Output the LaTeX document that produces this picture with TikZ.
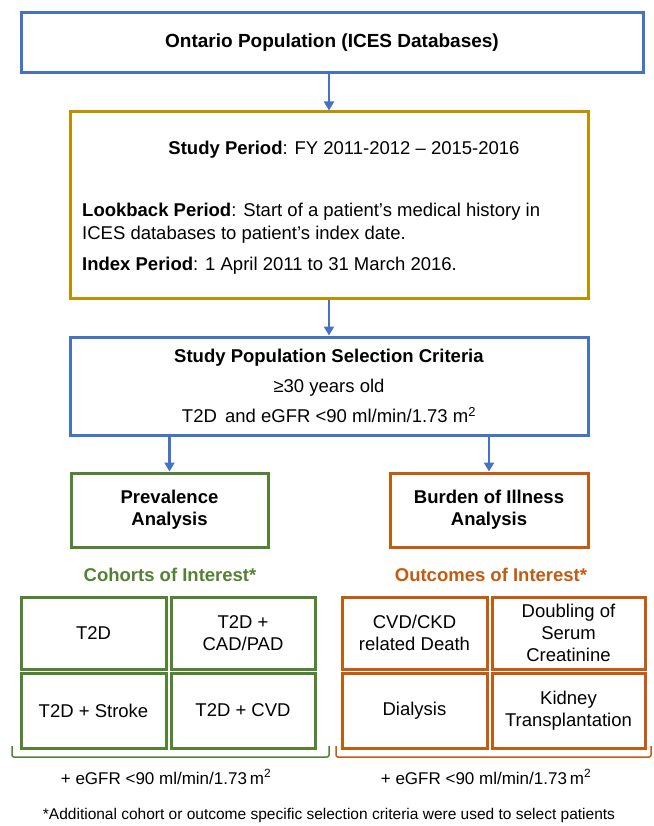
\documentclass[tikz,border=0pt]{standalone}
\usepackage{fontspec}
\setmainfont{Liberation Sans}
\usetikzlibrary{arrows.meta}
\definecolor{popblue}{HTML}{4472C4}
\definecolor{periodgold}{HTML}{BF9000}
\definecolor{prevgreen}{HTML}{548235}
\definecolor{burdenorange}{HTML}{C55A11}
\begin{document}
\begin{tikzpicture}[x=1pt,y=-1pt,
    every node/.style={font=\fontsize{18.5}{22}\selectfont, text=black},
    box/.style={draw, line width=3pt, inner sep=0pt, align=center},
    arr/.style={-{Triangle[width=10pt,length=9pt]}, line width=2.5pt, draw=popblue}]
  \useasboundingbox (0,0) rectangle (653,826);

  % main flow
  \node[box, draw=popblue, minimum width=622, minimum height=60, font=\fontsize{19}{23}\selectfont] (pop) at (332,43)
    {\textbf{Ontario Population (ICES Databases)}};
  \node[box, draw=periodgold, minimum width=518, minimum height=186] (period) at (329,205) {};
  \node[anchor=base] (study) at (344,155) {\textbf{Study Period}: FY 2011-2012 -- 2015-2016};
  \node[anchor=north west, align=left, inner sep=0pt, font=\fontsize{18.5}{23}\selectfont] (lookback) at (82,203)
    {\textbf{Lookback Period}: Start of a patient’s medical history in\\ICES databases to patient’s index date.};
  \node[anchor=base west, inner sep=0pt] (index) at (82,270) {\textbf{Index Period}: 1 April 2011 to 31 March 2016.};
  \node[box, draw=popblue, minimum width=518, minimum height=98] (select) at (329,386)
    {\textbf{Study Population Selection Criteria}\\[8pt]
     ≥30 years old\\[8pt]
     T2D\, and eGFR <90 ml/min/1.73 m\textsuperscript{2}};

  % two analyses
  \node[box, draw=prevgreen, minimum width=197, minimum height=74] (prev) at (169.5,510)
    {\textbf{Prevalence}\\\textbf{Analysis}};
  \node[box, draw=burdenorange, minimum width=198, minimum height=74] (burden) at (489,510)
    {\textbf{Burden of Illness}\\\textbf{Analysis}};
  \node[text=prevgreen] (cohorts) at (170,575) {\textbf{Cohorts of Interest*}};
  \node[text=burdenorange] (outcomes) at (491,575) {\textbf{Outcomes of Interest*}};

  \begin{scope}[every node/.append style={box, line width=3pt}]
    \node[draw=prevgreen, minimum width=145, minimum height=72] (t2d) at (93.5,633) {T2D};
    \node[draw=prevgreen, minimum width=144, minimum height=72] (cad) at (243,633) {T2D +\\CAD/PAD};
    \node[draw=prevgreen, minimum width=145, minimum height=75] (stroke) at (93.5,710.5) {T2D + Stroke};
    \node[draw=prevgreen, minimum width=144, minimum height=75] (cvd) at (243,710.5) {T2D + CVD};
    \node[draw=burdenorange, minimum width=145, minimum height=72] (death) at (414.5,633) {CVD/CKD\\related Death};
    \node[draw=burdenorange, minimum width=153, minimum height=72] (serum) at (568.5,633) {Doubling of\\Serum\\Creatinine};
    \node[draw=burdenorange, minimum width=145, minimum height=75] (dialysis) at (414.5,710.5) {Dialysis};
    \node[draw=burdenorange, minimum width=153, minimum height=75] (kidney) at (568.5,710.5) {Kidney\\Transplantation};
  \end{scope}

  % brackets
  \draw[prevgreen, line width=1.5pt, rounded corners=2pt] (12,746) -- (12,757) -- (329,757) -- (329,746);
  \draw[burdenorange, line width=1.5pt, rounded corners=2pt] (336,746) -- (336,757) -- (651,757) -- (651,746);

  \node[font=\fontsize{17}{20}\selectfont] (egfrl) at (166,777) {+ eGFR <90 ml/min/1.73\,m\textsuperscript{2}};
  \node[font=\fontsize{17}{20}\selectfont] (egfrr) at (486,777) {+ eGFR <90 ml/min/1.73\,m\textsuperscript{2}};
  \node[font=\fontsize{15.5}{18}\selectfont] (note) at (329,815)
    {*Additional cohort or outcome specific selection criteria were used to select patients};

  % arrows
  \draw[arr] (period.north |- pop.south) -- (period.north);
  \draw[arr] (period.south) -- (select.north);
  \draw[arr] (prev.north |- select.south) -- (prev.north);
  \draw[arr] (burden.north |- select.south) -- (burden.north);
\end{tikzpicture}
\end{document}
